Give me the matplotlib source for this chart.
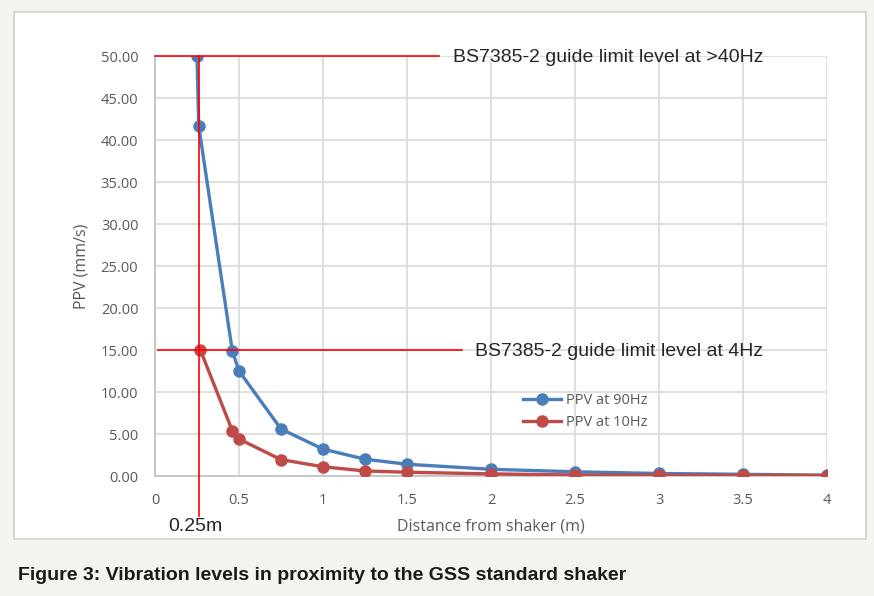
import matplotlib.pyplot as plt
from matplotlib.patches import Rectangle

# Datos
distancia_90 = [0.25, 0.26, 0.46, 0.50, 0.75, 1.0, 1.25, 1.5, 2.0, 2.5, 3.0, 3.5, 4.0]
ppv_90 = [50.0, 41.7, 14.9, 12.5, 5.6, 3.2, 2.0, 1.4, 0.8, 0.5, 0.3, 0.2, 0.1]

distancia_10 = [0.27, 0.46, 0.50, 0.75, 1.0, 1.25, 1.5, 2.0, 2.5, 3.0, 3.5, 4.0]
ppv_10 = [15.0, 5.4, 4.4, 1.95, 1.1, 0.6, 0.45, 0.25, 0.12, 0.08, 0.06, 0.05]

limite_40hz = 50.0
limite_4hz = 15.0
distancia_min = 0.26

x_ticks = [0, 0.5, 1, 1.5, 2, 2.5, 3, 3.5, 4]
x_tick_labels = ["0", "0.5", "1", "1.5", "2", "2.5", "3", "3.5", "4"]
y_ticks = [0, 5, 10, 15, 20, 25, 30, 35, 40, 45, 50]

AZUL = "#4a7ebb"
ROJO = "#be4b48"
GRIS_TEXTO = "#595959"
FUENTE_NOTA = ['Liberation Sans', 'DejaVu Sans']

plt.rcParams['font.family'] = ['Open Sans', 'DejaVu Sans']

fig = plt.figure(figsize=(8.74, 5.96), dpi=100, facecolor="#f4f4ef")
# Caja blanca del grafico
fig.patches.append(Rectangle((14 / 874, 1 - 539 / 596), 852 / 874, 527 / 596,
                             transform=fig.transFigure, facecolor="white",
                             edgecolor="#d0d0d0", linewidth=1.2, zorder=-5))

ax = fig.add_axes([155 / 874, 1 - 476 / 596, 672 / 874, 420 / 596])
ax.set_xlim(0, 4)
ax.set_ylim(0, 50)
ax.set_xticks(x_ticks)
ax.set_xticklabels(x_tick_labels)
ax.set_yticks(y_ticks)
ax.set_yticklabels(["{0:.2f}".format(v) for v in y_ticks])
ax.grid(True, color="#d9d9d9", linewidth=1.2)
ax.set_axisbelow(True)
for lado in ["top", "right"]:
    ax.spines[lado].set_visible(False)
for lado in ["left", "bottom"]:
    ax.spines[lado].set_color("#bfbfbf")
    ax.spines[lado].set_linewidth(1.2)
ax.tick_params(length=0, colors=GRIS_TEXTO, labelsize=10.5)
ax.tick_params(axis="y", pad=12)
ax.tick_params(axis="x", pad=12)

ax.plot(distancia_90, ppv_90, color=AZUL, linewidth=2.4, marker="o", markersize=8,
        label="PPV at 90Hz", zorder=3)
ax.plot(distancia_10, ppv_10, color=ROJO, linewidth=2.4, marker="o", markersize=8,
        label="PPV at 10Hz", zorder=3)

# Lineas de limite
ax.plot([0, 1.69], [limite_40hz, limite_40hz], color="red", linewidth=1.2,
        clip_on=False, zorder=4)
ax.text(1.775, limite_40hz - 0.2, "BS7385-2 guide limit level at >40Hz", fontsize=14,
        color="#262626", va="center", ha="left", family=FUENTE_NOTA)
ax.plot([0.02, 1.83], [limite_4hz, limite_4hz], color="red", linewidth=1.2,
        clip_on=False, zorder=4)
ax.text(1.905, limite_4hz - 0.2, "BS7385-2 guide limit level at 4Hz", fontsize=14,
        color="#262626", va="center", ha="left", family=FUENTE_NOTA)
ax.plot([distancia_min, distancia_min], [limite_40hz, -4.8], color="red", linewidth=1.2,
        clip_on=False, zorder=4)
ax.text(distancia_min - 0.02, -6.0, "0.25m", fontsize=14, color="#262626", ha="center",
        va="center", family=FUENTE_NOTA)

ax.set_xlabel("Distance from shaker (m)", fontsize=11.5, color=GRIS_TEXTO, labelpad=8)
ax.set_ylabel("PPV (mm/s)", fontsize=11.5, color=GRIS_TEXTO, labelpad=8)

ax.legend(loc="center left", bbox_to_anchor=(0.548, 0.153), frameon=False, fontsize=10.5,
          labelcolor=GRIS_TEXTO, handlelength=2.6, handletextpad=0.3, labelspacing=0.45,
          borderpad=0, borderaxespad=0)

fig.text(18 / 874, 1 - 576 / 596, "Figure 3: Vibration levels in proximity to the GSS standard shaker",
         fontsize=14, fontweight="bold", color="#1a1a1a", va="center", family=FUENTE_NOTA)

fig.savefig("out.png", dpi=100, facecolor=fig.get_facecolor())
